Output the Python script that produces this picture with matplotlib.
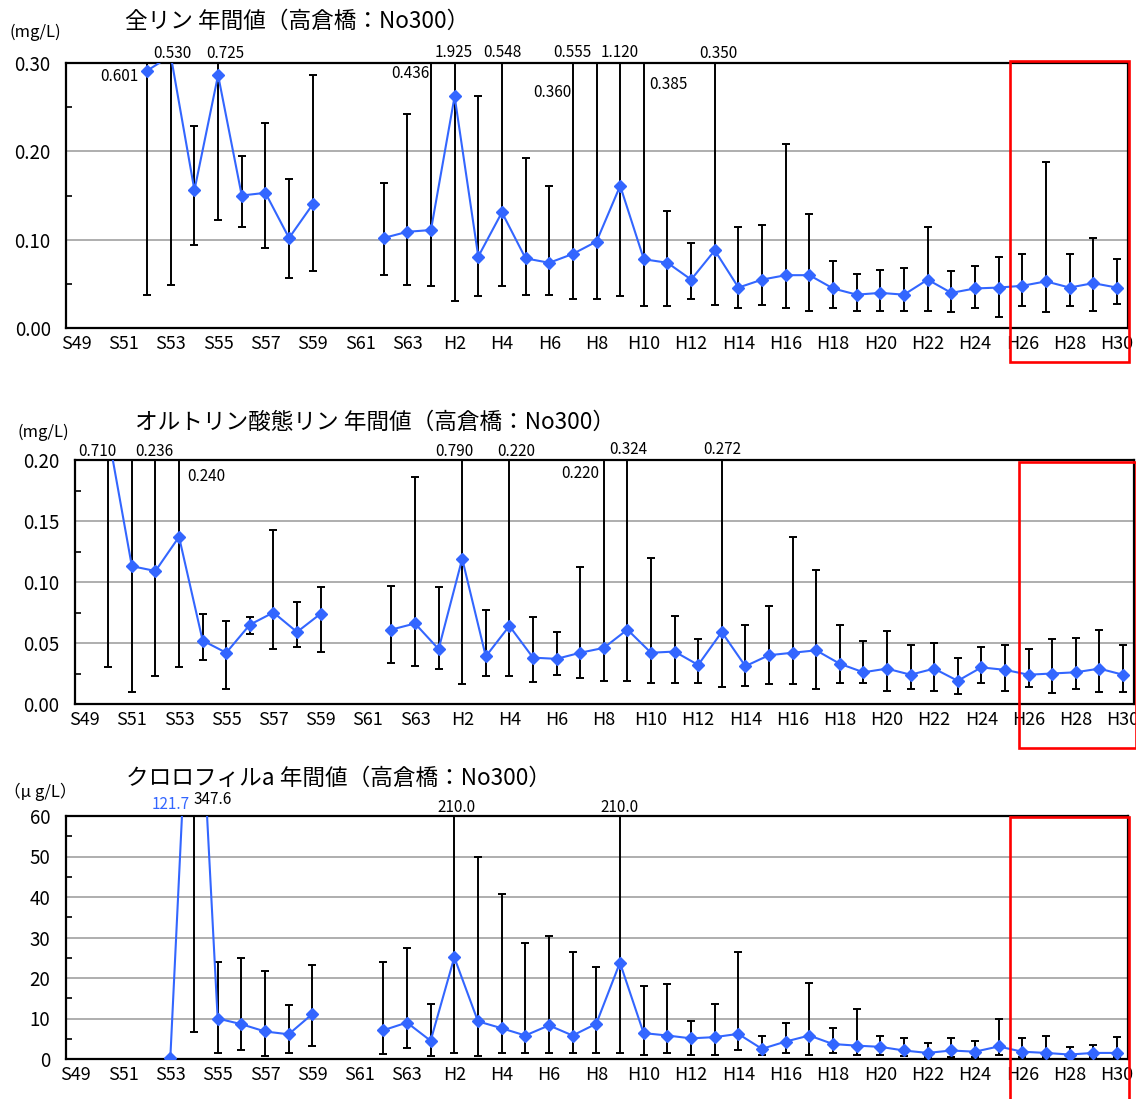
import numpy as np
import matplotlib
matplotlib.use("Agg")
import matplotlib.pyplot as plt
from matplotlib.ticker import MultipleLocator, FixedLocator, FixedFormatter, FormatStrFormatter
from matplotlib.patches import Rectangle
import matplotlib.transforms as mtransforms

plt.rcParams['font.family'] = ['Noto Sans CJK JP', 'DejaVu Sans']

nan = np.nan

# ---------------- data ----------------
years = ['S49', 'S50', 'S51', 'S52', 'S53', 'S54', 'S55', 'S56', 'S57', 'S58', 'S59', 'S60', 'S61', 'S62', 'S63',
         'H1', 'H2', 'H3', 'H4', 'H5', 'H6', 'H7', 'H8', 'H9', 'H10', 'H11', 'H12', 'H13', 'H14', 'H15',
         'H16', 'H17', 'H18', 'H19', 'H20', 'H21', 'H22', 'H23', 'H24', 'H25', 'H26', 'H27', 'H28', 'H29', 'H30']

# 全リン (mg/L)
tp_mean = [nan, nan, nan, 0.291, 0.308, 0.156, 0.286, 0.150, 0.153, 0.102, 0.140, nan, nan, 0.102, 0.109,
           0.111, 0.262, 0.081, 0.131, 0.079, 0.074, 0.084, 0.098, 0.161, 0.078, 0.074, 0.055, 0.088, 0.046, 0.055,
           0.060, 0.060, 0.045, 0.038, 0.040, 0.038, 0.055, 0.040, 0.045, 0.046, 0.048, 0.053, 0.046, 0.051, 0.046]
tp_min = [nan, nan, nan, 0.038, 0.049, 0.094, 0.122, 0.114, 0.091, 0.057, 0.065, nan, nan, 0.060, 0.049,
          0.048, 0.031, 0.037, 0.048, 0.038, 0.038, 0.033, 0.033, 0.037, 0.025, 0.025, 0.033, 0.026, 0.023, 0.026,
          0.023, 0.020, 0.023, 0.020, 0.020, 0.020, 0.020, 0.018, 0.023, 0.013, 0.025, 0.018, 0.025, 0.020, 0.028]
tp_max = [nan, nan, nan, 0.601, 0.530, 0.228, 0.725, 0.195, 0.232, 0.169, 0.286, nan, nan, 0.164, 0.242,
          0.436, 1.925, 0.262, 0.548, 0.192, 0.161, 0.360, 0.555, 1.120, 0.385, 0.133, 0.096, 0.350, 0.114, 0.117,
          0.208, 0.129, 0.076, 0.061, 0.066, 0.068, 0.114, 0.065, 0.070, 0.081, 0.084, 0.188, 0.084, 0.102, 0.078]

# オルトリン酸態リン (mg/L)
op_mean = [nan, 0.221, 0.113, 0.109, 0.137, 0.052, 0.042, 0.065, 0.075, 0.059, 0.074, nan, nan, 0.061, 0.066,
           0.045, 0.119, 0.039, 0.064, 0.038, 0.037, 0.042, 0.046, 0.061, 0.042, 0.043, 0.032, 0.059, 0.031, 0.040,
           0.042, 0.044, 0.033, 0.026, 0.029, 0.024, 0.029, 0.019, 0.030, 0.028, 0.024, 0.025, 0.026, 0.029, 0.024]
op_min = [nan, 0.030, 0.010, 0.023, 0.030, 0.036, 0.012, 0.057, 0.045, 0.047, 0.043, nan, nan, 0.034, 0.031,
          0.029, 0.016, 0.023, 0.023, 0.018, 0.024, 0.021, 0.019, 0.019, 0.017, 0.017, 0.017, 0.014, 0.015, 0.016,
          0.016, 0.012, 0.017, 0.017, 0.011, 0.012, 0.011, 0.008, 0.017, 0.011, 0.014, 0.009, 0.012, 0.010, 0.010]
op_max = [nan, 0.710, 0.250, 0.236, 0.240, 0.074, 0.068, 0.071, 0.143, 0.084, 0.096, nan, nan, 0.097, 0.186,
          0.096, 0.790, 0.077, 0.220, 0.071, 0.059, 0.112, 0.220, 0.324, 0.120, 0.072, 0.053, 0.272, 0.065, 0.080,
          0.137, 0.110, 0.065, 0.052, 0.060, 0.048, 0.050, 0.038, 0.047, 0.048, 0.045, 0.053, 0.054, 0.061, 0.048]

# クロロフィルa (μg/L)
chl_mean = [nan, nan, nan, nan, 0.3, 121.7, 10.0, 8.6, 6.8, 6.1, 11.1, nan, nan, 7.1, 9.0,
            4.5, 25.1, 9.3, 7.6, 5.8, 8.3, 5.8, 8.7, 23.8, 6.4, 5.8, 5.1, 5.4, 6.2, 2.5,
            4.3, 5.8, 3.7, 3.3, 3.0, 2.1, 1.5, 2.1, 1.8, 3.1, 1.8, 1.5, 1.1, 1.5, 1.5]
chl_min = [nan, nan, nan, nan, nan, 6.6, 1.5, 2.3, 0.8, 1.5, 3.3, nan, nan, 1.2, 2.6,
           0.8, 1.5, 0.8, 1.5, 1.5, 1.5, 1.5, 1.5, 1.5, 1.1, 1.5, 1.1, 1.1, 2.2, 1.1,
           1.5, 1.1, 1.5, 1.1, 1.1, 0.8, 0.4, 0.4, 0.4, 1.1, 0.4, 0.4, 0.4, 0.4, 0.4]
chl_max = [nan, nan, nan, nan, nan, 347.6, 23.9, 25.0, 21.7, 13.4, 23.1, nan, nan, 23.9, 27.5,
           13.7, 210.0, 49.9, 40.8, 28.6, 30.4, 26.4, 22.8, 210.0, 18.1, 18.5, 9.4, 13.7, 26.4, 5.8,
           9.0, 18.8, 7.6, 12.3, 5.8, 5.1, 4.0, 5.1, 4.4, 9.9, 5.1, 5.8, 3.0, 3.5, 5.5]

titles = ['全リン 年間値（高倉橋：No300）',
          'オルトリン酸態リン 年間値（高倉橋：No300）',
          'クロロフィルa 年間値（高倉橋：No300）']
units = ['(mg/L)', '(mg/L)', '（μ g/L）']

# ---------------- style ----------------
W, H = 1136, 1099
fig = plt.figure(figsize=(W / 100, H / 100), dpi=100)
LINE = '#3366FF'

def px_rect(l, r, t, b):
    return [l / W, 1 - b / H, (r - l) / W, (b - t) / H]

panels = [
    dict(rect=px_rect(66, 1128, 62.7, 328.3), mean=tp_mean, lo=tp_min, hi=tp_max,
         ylim=(0, 0.30), major=0.10, minor=0.05, fmt='%.2f', vfmt='{:.3f}',
         title_xy=(297, 21), unit_xy=(35, 32),
         labels=[(3, -6.5, -9.6, 'right'), (4, 1.4, 6.3, 'center'), (6, 5.5, 6.3, 'center'),
                 (15, -1.4, -8.1, 'right'), (16, -0.7, 7.7, 'center'), (18, 0.7, 7.7, 'center'),
                 (21, -0.7, -21.1, 'right'), (22, -17.3, 7.2, 'center'), (23, 0, 7.2, 'center'),
                 (24, 3.6, -16, 'left'), (27, 2.9, 6.3, 'center')],
         mean_labels=[],
         box=(39.5, 44.5, 1.006, -0.127)),
    dict(rect=px_rect(74.5, 1134, 460, 704), mean=op_mean, lo=op_min, hi=op_max,
         ylim=(0, 0.20), major=0.05, minor=0.025, fmt='%.2f', vfmt='{:.3f}',
         title_xy=(375, 422), unit_xy=(43.5, 432),
         labels=[(1, -7.9, 5.8, 'center'), (3, -0.7, 5.8, 'center'), (4, 5.8, -12.2, 'left'),
                 (16, -5.8, 5.8, 'center'), (18, 5.0, 5.8, 'center'), (22, -3.3, -9.4, 'right'),
                 (23, 0.7, 7.9, 'center'), (27, 0.7, 7.9, 'center')],
         mean_labels=[],
         box=(39.6, 44.55, 0.992, -0.18)),
    dict(rect=px_rect(65.5, 1128, 816, 1059), mean=chl_mean, lo=chl_min, hi=chl_max,
         ylim=(0, 60), major=10, minor=5, fmt='%d', vfmt='{:.1f}',
         title_xy=(338, 778), unit_xy=(40, 792),
         labels=[(5, 0, 12.2, 'left'), (16, 1.4, 5.8, 'center'), (23, 0, 5.8, 'center')],
         mean_labels=[(5, -2.9, 8.6, 'right')],
         box=(39.5, 44.5, 0.996, -0.25)),
]

x = np.arange(len(years))

for i, p in enumerate(panels):
    ax = fig.add_axes(p['rect'])
    mean = np.array(p['mean'], dtype=float)
    lo = np.array(p['lo'], dtype=float)
    hi = np.array(p['hi'], dtype=float)

    ax.yaxis.grid(True, color='#a8a8a8', lw=1.3, zorder=0)
    ax.set_axisbelow(True)

    m = ~np.isnan(lo)
    ax.errorbar(x[m], mean[m], yerr=[mean[m] - lo[m], hi[m] - mean[m]], fmt='none',
                ecolor='black', elinewidth=1.4, capsize=3.2, capthick=1.4, zorder=3)
    ax.plot(x, mean, color=LINE, lw=1.5, marker='D', markersize=6.5, mec=LINE, mfc=LINE, zorder=4)

    ax.set_xlim(-0.43, 44.47)
    ax.set_ylim(*p['ylim'])
    ax.yaxis.set_major_locator(MultipleLocator(p['major']))
    ax.yaxis.set_minor_locator(MultipleLocator(p['minor']))
    ax.yaxis.set_major_formatter(FormatStrFormatter(p['fmt']))
    ax.tick_params(axis='y', which='major', length=0, pad=11, labelsize=13.5)
    ax.tick_params(axis='y', which='minor', direction='in', length=4, width=1.2)
    ax.xaxis.set_major_locator(FixedLocator(x[::2]))
    ax.xaxis.set_major_formatter(FixedFormatter(years[::2]))
    ax.tick_params(axis='x', which='major', length=0, pad=5, labelsize=13)
    for s in ax.spines.values():
        s.set_linewidth(1.6)
        s.set_color('black')

    trans = mtransforms.blended_transform_factory(ax.transData, ax.transAxes)
    for (idx, dx, dy, ha) in p['labels']:
        ax.annotate(p['vfmt'].format(hi[idx]), xy=(idx, 1.0), xycoords=trans,
                    xytext=(dx, dy), textcoords='offset points', ha=ha, va='center',
                    fontsize=11, color='black', annotation_clip=False)
    for (idx, dx, dy, ha) in p['mean_labels']:
        ax.annotate(p['vfmt'].format(mean[idx]), xy=(idx, 1.0), xycoords=trans,
                    xytext=(dx, dy), textcoords='offset points', ha=ha, va='center',
                    fontsize=11, color=LINE, annotation_clip=False)

    x0, x1, yt, yb = p['box']
    ax.add_patch(Rectangle((x0, yb), x1 - x0, yt - yb, transform=trans, fill=False,
                           edgecolor='#ff0000', lw=1.9, clip_on=False, zorder=6))

    tx, ty = p['title_xy']
    fig.text(tx / W, 1 - ty / H, titles[i], ha='center', va='center', fontsize=16.3)
    ux, uy = p['unit_xy']
    fig.text(ux / W, 1 - uy / H, units[i], ha='center', va='center', fontsize=12)

fig.savefig('out.png', dpi=100)
